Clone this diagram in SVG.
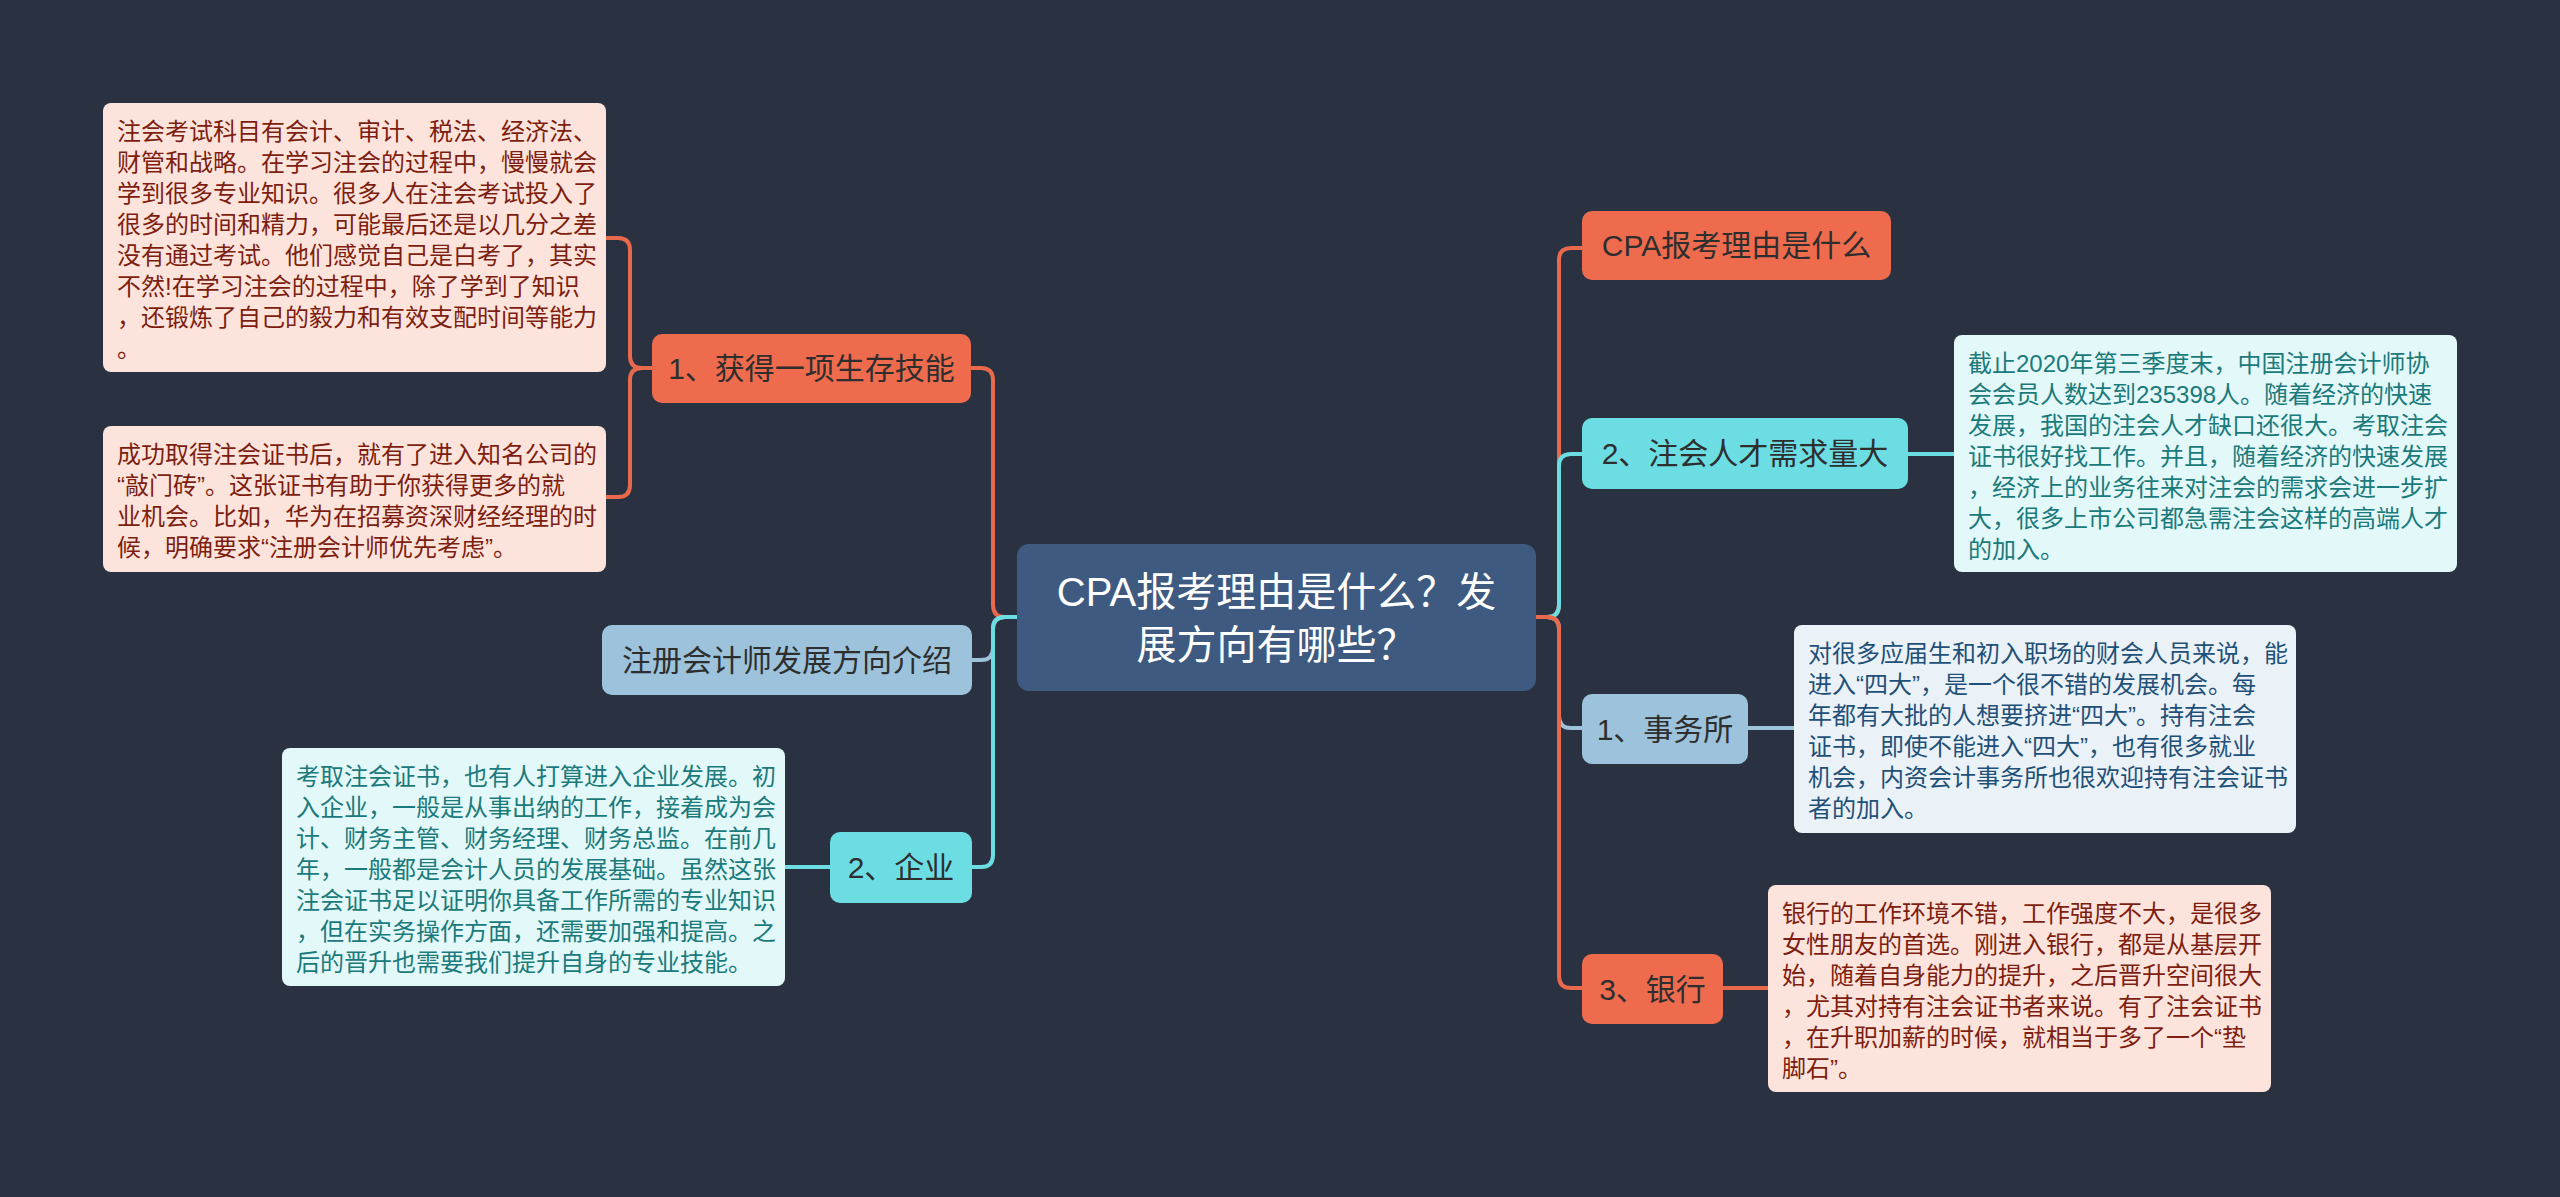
<svg xmlns="http://www.w3.org/2000/svg" width="2560" height="1197" viewBox="0 0 2560 1197">
<style>
  .bg{fill:#2A3140}
  .t{font-family:"Liberation Sans","Noto Sans CJK SC",sans-serif}
  .n1{font-size:30px;fill:#2E2E2E;text-anchor:middle}
  .root{font-size:40px;fill:#FFFFFF;text-anchor:middle}
  .d{font-size:24px}
  .orange{fill:#EE6B4E}
  .cyan{fill:#6CDDE3}
  .lblue{fill:#9CC3DB}
  .pink{fill:#FCE4DC}
  .pink-t{fill:#7D1E10}
  .pcyan{fill:#E3F8F9}
  .pcyan-t{fill:#1B7A7B}
  .pblue{fill:#EAF2F8}
  .pblue-t{fill:#1F5078}
  .c{fill:none;stroke-width:4;stroke-linecap:round;stroke-linejoin:round}
  .co{stroke:#E8694C}
  .cc{stroke:#6CDDE3}
  .cb{stroke:#9CC3DB}
</style>
<rect class="bg" x="0" y="0" width="2560" height="1197"/>

<g id="connectors">
  <!-- left main -->
  <path class="c co" d="M1017,617 H1005 Q993,617 993,605 V380 Q993,368 981,368 H971"/>
  <path class="c cb" d="M1017,617 H1005 Q993,617 993,629 V648 Q993,660 981,660 H972"/>
  <path class="c cc" d="M1017,617 H1005 Q993,617 993,629 V855 Q993,867 981,867 H972"/>
  <!-- left children -->
  <path class="c co" d="M652,368 H642 Q630,368 630,356 V250 Q630,238 618,238 H606"/>
  <path class="c co" d="M652,368 H642 Q630,368 630,380 V485 Q630,497 618,497 H606"/>
  <path class="c cc" d="M830,867 H785"/>
  <!-- right main -->
  <path class="c co" d="M1536,617 H1547 Q1559,617 1559,605 V260 Q1559,248 1571,248 H1582"/>
  <path class="c cc" d="M1536,617 H1547 Q1559,617 1559,605 V466 Q1559,454 1571,454 H1582"/>
  <path class="c cb" d="M1536,617 H1547 Q1559,617 1559,629 V716 Q1559,728 1571,728 H1582"/>
  <path class="c co" d="M1536,617 H1547 Q1559,617 1559,629 V976 Q1559,988 1571,988 H1582"/>
  <!-- right children -->
  <path class="c cc" d="M1908,454 H1954"/>
  <path class="c cb" d="M1748,728 H1794"/>
  <path class="c co" d="M1723,988 H1768"/>
</g>

<g id="root">
  <rect x="1017" y="544" width="519" height="147" rx="12" fill="#3E5A80"/>
  <text class="t root" x="1276.5" y="606">CPA报考理由是什么？发</text>
  <text class="t root" x="1276.5" y="659">展方向有哪些？</text>
</g>

<g id="n-skill">
  <rect class="orange" x="652" y="334" width="319" height="69" rx="10"/>
  <text class="t n1" x="811.5" y="379">1、获得一项生存技能</text>
</g>
<g id="n-dev">
  <rect class="lblue" x="602" y="625" width="370" height="70" rx="10"/>
  <text class="t n1" x="787" y="671">注册会计师发展方向介绍</text>
</g>
<g id="n-company">
  <rect class="cyan" x="830" y="832" width="142" height="71" rx="10"/>
  <text class="t n1" x="901" y="878">2、企业</text>
</g>
<g id="n-why">
  <rect class="orange" x="1582" y="211" width="309" height="69" rx="10"/>
  <text class="t n1" x="1736.5" y="256">CPA报考理由是什么</text>
</g>
<g id="n-demand">
  <rect class="cyan" x="1582" y="418" width="326" height="71" rx="10"/>
  <text class="t n1" x="1745" y="464">2、注会人才需求量大</text>
</g>
<g id="n-firm">
  <rect class="lblue" x="1582" y="694" width="166" height="70" rx="10"/>
  <text class="t n1" x="1665" y="740">1、事务所</text>
</g>
<g id="n-bank">
  <rect class="orange" x="1582" y="954" width="141" height="70" rx="10"/>
  <text class="t n1" x="1652.5" y="1000">3、银行</text>
</g>

<g id="box-a">
  <rect class="pink" x="103" y="103" width="503" height="269" rx="8"/>
  <text class="t d pink-t">
    <tspan x="117" y="140">注会考试科目有会计、审计、税法、经济法、</tspan>
    <tspan x="117" y="171">财管和战略。在学习注会的过程中，慢慢就会</tspan>
    <tspan x="117" y="202">学到很多专业知识。很多人在注会考试投入了</tspan>
    <tspan x="117" y="233">很多的时间和精力，可能最后还是以几分之差</tspan>
    <tspan x="117" y="264">没有通过考试。他们感觉自己是白考了，其实</tspan>
    <tspan x="117" y="295">不然!在学习注会的过程中，除了学到了知识</tspan>
    <tspan x="117" y="326">，还锻炼了自己的毅力和有效支配时间等能力</tspan>
    <tspan x="117" y="357">。</tspan>
  </text>
</g>
<g id="box-b">
  <rect class="pink" x="103" y="426" width="503" height="146" rx="8"/>
  <text class="t d pink-t">
    <tspan x="117" y="463">成功取得注会证书后，就有了进入知名公司的</tspan>
    <tspan x="117" y="494">“敲门砖”。这张证书有助于你获得更多的就</tspan>
    <tspan x="117" y="525">业机会。比如，华为在招募资深财经经理的时</tspan>
    <tspan x="117" y="556">候，明确要求“注册会计师优先考虑”。</tspan>
  </text>
</g>
<g id="box-c">
  <rect class="pcyan" x="282" y="748" width="503" height="238" rx="8"/>
  <text class="t d pcyan-t">
    <tspan x="296" y="785">考取注会证书，也有人打算进入企业发展。初</tspan>
    <tspan x="296" y="816">入企业，一般是从事出纳的工作，接着成为会</tspan>
    <tspan x="296" y="847">计、财务主管、财务经理、财务总监。在前几</tspan>
    <tspan x="296" y="878">年，一般都是会计人员的发展基础。虽然这张</tspan>
    <tspan x="296" y="909">注会证书足以证明你具备工作所需的专业知识</tspan>
    <tspan x="296" y="940">，但在实务操作方面，还需要加强和提高。之</tspan>
    <tspan x="296" y="971">后的晋升也需要我们提升自身的专业技能。</tspan>
  </text>
</g>
<g id="box-d">
  <rect class="pcyan" x="1954" y="335" width="503" height="237" rx="8"/>
  <text class="t d pcyan-t">
    <tspan x="1968" y="372">截止2020年第三季度末，中国注册会计师协</tspan>
    <tspan x="1968" y="403">会会员人数达到235398人。随着经济的快速</tspan>
    <tspan x="1968" y="434">发展，我国的注会人才缺口还很大。考取注会</tspan>
    <tspan x="1968" y="465">证书很好找工作。并且，随着经济的快速发展</tspan>
    <tspan x="1968" y="496">，经济上的业务往来对注会的需求会进一步扩</tspan>
    <tspan x="1968" y="527">大，很多上市公司都急需注会这样的高端人才</tspan>
    <tspan x="1968" y="558">的加入。</tspan>
  </text>
</g>
<g id="box-e">
  <rect class="pblue" x="1794" y="625" width="502" height="208" rx="8"/>
  <text class="t d pblue-t">
    <tspan x="1808" y="662">对很多应届生和初入职场的财会人员来说，能</tspan>
    <tspan x="1808" y="693">进入“四大”，是一个很不错的发展机会。每</tspan>
    <tspan x="1808" y="724">年都有大批的人想要挤进“四大”。持有注会</tspan>
    <tspan x="1808" y="755">证书，即使不能进入“四大”，也有很多就业</tspan>
    <tspan x="1808" y="786">机会，内资会计事务所也很欢迎持有注会证书</tspan>
    <tspan x="1808" y="817">者的加入。</tspan>
  </text>
</g>
<g id="box-f">
  <rect class="pink" x="1768" y="885" width="503" height="207" rx="8"/>
  <text class="t d pink-t">
    <tspan x="1782" y="922">银行的工作环境不错，工作强度不大，是很多</tspan>
    <tspan x="1782" y="953">女性朋友的首选。刚进入银行，都是从基层开</tspan>
    <tspan x="1782" y="984">始，随着自身能力的提升，之后晋升空间很大</tspan>
    <tspan x="1782" y="1015">，尤其对持有注会证书者来说。有了注会证书</tspan>
    <tspan x="1782" y="1046">，在升职加薪的时候，就相当于多了一个“垫</tspan>
    <tspan x="1782" y="1077">脚石”。</tspan>
  </text>
</g>
</svg>
